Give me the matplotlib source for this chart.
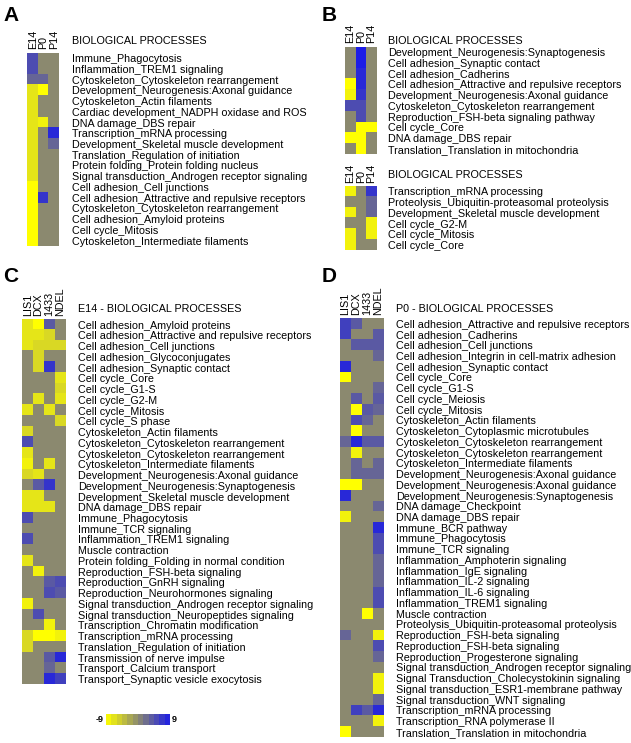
import numpy as np
import matplotlib
matplotlib.use("Agg")
import matplotlib.pyplot as plt
from matplotlib.colors import LinearSegmentedColormap

plt.rcParams['font.family'] = ['Liberation Sans', 'DejaVu Sans']

W, H = 631, 743

# ---- data -------------------------------------------------------------
stage_cols = ['E14', 'P0', 'P14']
gene_cols = ['LIS1', 'DCX', '1433', 'NDEL']

a_rows = ['Immune_Phagocytosis',
          'Inflammation_TREM1 signaling',
          'Cytoskeleton_Cytoskeleton rearrangement',
          'Development_Neurogenesis:Axonal guidance',
          'Cytoskeleton_Actin filaments',
          'Cardiac development_NADPH oxidase and ROS',
          'DNA damage_DBS repair',
          'Transcription_mRNA processing',
          'Development_Skeletal muscle development',
          'Translation_Regulation of initiation',
          'Protein folding_Protein folding nucleus',
          'Signal transduction_Androgen receptor signaling',
          'Cell adhesion_Cell junctions',
          'Cell adhesion_Attractive and repulsive receptors',
          'Cytoskeleton_Cytoskeleton rearrangement',
          'Cell adhesion_Amyloid proteins',
          'Cell cycle_Mitosis',
          'Cytoskeleton_Intermediate filaments']
a_vals = [[5, 0, 0], [5, 0, 0], [3, 3, 0], [-7, -9, 0], [-7, 0, 0], [-7, 0, 0],
          [-7, -8, 0], [-7, 0, 8], [-7, 0, 3], [-7, 0, 0], [-7, 0, 0], [-7, 0, 0],
          [-9, 0, 0], [-9, 7, 0], [-9, 0, 0], [-9, 0, 0], [-9, 0, 0], [-9, 0, 0]]

b1_rows = ['Development_Neurogenesis:Synaptogenesis',
           'Cell adhesion_Synaptic contact',
           'Cell adhesion_Cadherins',
           'Cell adhesion_Attractive and repulsive receptors',
           'Development_Neurogenesis:Axonal guidance',
           'Cytoskeleton_Cytoskeleton rearrangement',
           'Reproduction_FSH-beta signaling pathway',
           'Cell cycle_Core',
           'DNA damage_DBS repair',
           'Translation_Translation in mitochondria']
b1_vals = [[0, 9, 0], [0, 9, 0], [0, 8, 0], [-9, 8, 0], [-8, 7, 0], [5, 5, 0],
           [0, 5, 0], [0, -9, -9], [-9, -9, 0], [0, -9, 0]]

b2_rows = ['Transcription_mRNA processing',
           'Proteolysis_Ubiquitin-proteasomal proteolysis',
           'Development_Skeletal muscle development',
           'Cell cycle_G2-M',
           'Cell cycle_Mitosis',
           'Cell cycle_Core']
b2_vals = [[-8, 0, 7], [0, 0, 3], [-8, 0, 3], [0, 0, -8], [-8, 0, -8], [-8, 0, 0]]

c_rows = ['Cell adhesion_Amyloid proteins',
          'Cell adhesion_Attractive and repulsive receptors',
          'Cell adhesion_Cell junctions',
          'Cell adhesion_Glycoconjugates',
          'Cell adhesion_Synaptic contact',
          'Cell cycle_Core',
          'Cell cycle_G1-S',
          'Cell cycle_G2-M',
          'Cell cycle_Mitosis',
          'Cell cycle_S phase',
          'Cytoskeleton_Actin filaments',
          'Cytoskeleton_Cytoskeleton rearrangement',
          'Cytoskeleton_Cytoskeleton rearrangement',
          'Cytoskeleton_Intermediate filaments',
          'Development_Neurogenesis:Axonal guidance',
          'Development_Neurogenesis:Synaptogenesis',
          'Development_Skeletal muscle development',
          'DNA damage_DBS repair',
          'Immune_Phagocytosis',
          'Immune_TCR signaling',
          'Inflammation_TREM1 signaling',
          'Muscle contraction',
          'Protein folding_Folding in normal condition',
          'Reproduction_FSH-beta signaling',
          'Reproduction_GnRH signaling',
          'Reproduction_Neurohormones signaling',
          'Signal transduction_Androgen receptor signaling',
          'Signal transduction_Neuropeptides signaling',
          'Transcription_Chromatin modification',
          'Transcription_mRNA processing',
          'Translation_Regulation of initiation',
          'Transmission of nerve impulse',
          'Transport_Calcium transport',
          'Transport_Synaptic vesicle exocytosis']
c_vals = [[-7, -9, 4, 0], [-7, -7, -6, 0], [-7, -6, -6, -6], [0, -6, 0, 0],
          [0, -6, 7, 0], [0, 0, 0, -7], [0, 0, 0, -6], [0, -7, 0, -7],
          [-7, 0, -7, 0], [0, 0, 0, -6], [-6, 0, 0, 0], [5, 0, 0, 0],
          [-7, 0, 0, 0], [-8, 0, -7, 0], [-6, -7, 0, 0], [0, 4, 7, 0],
          [-7, -7, 0, 0], [-7, -7, -7, 0], [5, 0, 0, 0], [0, 0, 0, 0],
          [5, 0, 0, 0], [0, 0, 0, 0], [-7, 0, 0, 0], [0, -8, 0, 0],
          [0, 0, 4, 5], [0, 0, 5, 4], [-8, 0, 0, 0], [0, 5, 0, 0],
          [0, 0, -8, 0], [-6, -9, -9, -8], [-6, 0, 0, 0], [0, 0, 4, 8],
          [0, 0, 3, 0], [0, 0, 8, 6]]

d_rows = ['Cell adhesion_Attractive and repulsive receptors',
          'Cell adhesion_Cadherins',
          'Cell adhesion_Cell junctions',
          'Cell adhesion_Integrin in cell-matrix adhesion',
          'Cell adhesion_Synaptic contact',
          'Cell cycle_Core',
          'Cell cycle_G1-S',
          'Cell cycle_Meiosis',
          'Cell cycle_Mitosis',
          'Cytoskeleton_Actin filaments',
          'Cytoskeleton_Cytoplasmic microtubules',
          'Cytoskeleton_Cytoskeleton rearrangement',
          'Cytoskeleton_Cytoskeleton rearrangement',
          'Cytoskeleton_Intermediate filaments',
          'Development_Neurogenesis:Axonal guidance',
          'Development_Neurogenesis:Axonal guidance',
          'Development_Neurogenesis:Synaptogenesis',
          'DNA damage_Checkpoint',
          'DNA damage_DBS repair',
          'Immune_BCR pathway',
          'Immune_Phagocytosis',
          'Immune_TCR signaling',
          'Inflammation_Amphoterin signaling',
          'Inflammation_IgE signaling',
          'Inflammation_IL-2 signaling',
          'Inflammation_IL-6 signaling',
          'Inflammation_TREM1 signaling',
          'Muscle contraction',
          'Proteolysis_Ubiquitin-proteasomal proteolysis',
          'Reproduction_FSH-beta signaling',
          'Reproduction_FSH-beta signaling',
          'Reproduction_Progesterone signaling',
          'Signal transduction_Androgen receptor signaling',
          'Signal Transduction_Cholecystokinin signaling',
          'Signal transduction_ESR1-membrane pathway',
          'Signal transduction_WNT signaling',
          'Transcription_mRNA processing',
          'Transcription_RNA polymerase II',
          'Translation_Translation in mitochondria']
d_vals = [[6, 4, 0, 0], [6, 0, 0, 4], [0, 4, 4, 4], [0, 0, 0, 3],
          [8, 0, 0, 0], [-9, 0, 0, 0], [0, 0, 0, 3], [0, 4, 0, 4],
          [0, -9, 4, 3], [0, 5, 3, 0], [0, -9, 0, 0], [3, 8, 4, 4],
          [0, -8, 0, 0], [0, 3, 0, 3], [0, 3, 3, 3], [-9, -9, 0, 0],
          [8, 0, 0, 0], [0, 0, 0, 3], [-8, 0, 0, 0], [0, 0, 0, 8],
          [0, 0, 0, 5], [0, 0, 0, 5], [0, 0, 0, 3], [0, 0, 0, 3],
          [0, 0, 0, 3], [0, 0, 0, 5], [0, 0, 0, 5], [0, 0, -9, 0],
          [0, 0, 0, 0], [3, 0, 0, -8], [0, 0, 0, 5], [0, 0, 0, 3],
          [0, 0, 0, 0], [0, 0, 0, -8], [0, 0, 0, -8], [0, 0, 0, 3],
          [0, 6, 4, 8], [0, 0, 0, -8], [-9, 0, 0, 0]]

# ---- colours ----------------------------------------------------------
cmap = LinearSegmentedColormap.from_list(
    'ygb', ['#ffff00', '#8c8a6f', '#1c1ce6'], N=256)
VMIN, VMAX = -9, 9
FS = 7.75


def px(x0, y0, x1, y1):
    # pixel box (from top-left) -> figure fraction
    return [x0 / W, 1 - y1 / H, (x1 - x0) / W, (y1 - y0) / H]


def heat(fig, box, vals, rows, cols, pad):
    ax = fig.add_axes(px(*box))
    im = ax.imshow(np.array(vals), cmap=cmap, vmin=VMIN, vmax=VMAX,
                   aspect='auto', interpolation='nearest')
    ax.yaxis.tick_right()
    ax.set_yticks(range(len(rows)))
    ax.set_yticklabels(rows, fontsize=FS)
    ax.xaxis.tick_top()
    ax.set_xticks(range(len(cols)))
    ax.set_xticklabels(cols, rotation=90, fontsize=FS)
    ax.tick_params(axis='y', length=0, pad=pad)
    ax.tick_params(axis='x', length=0, pad=2.5)
    for s in ax.spines.values():
        s.set_visible(False)
    return im


fig = plt.figure(figsize=(W / 100, H / 100), dpi=100)

# panel letters
for lab, x, y in [('A', 3, 21), ('B', 322, 21), ('C', 3, 282), ('D', 322, 282)]:
    fig.text(x / W, 1 - y / H, lab, fontsize=15, fontweight='bold', va='baseline')

# A
heat(fig, (27.3, 52.7, 59.3, 52.7 + 18 * 10.74), a_vals, a_rows, stage_cols, 9.0)
fig.text(72 / W, 1 - 44.5 / H, 'BIOLOGICAL PROCESSES', fontsize=FS, va='baseline')

# B
heat(fig, (345, 46.7, 376.7, 46.7 + 10 * 10.74), b1_vals, b1_rows, stage_cols, 8.2)
fig.text(388 / W, 1 - 44 / H, 'BIOLOGICAL PROCESSES', fontsize=FS, va='baseline')
heat(fig, (345, 186, 376.7, 186 + 6 * 10.74), b2_vals, b2_rows, stage_cols, 8.2)
fig.text(388 / W, 1 - 178.5 / H, 'BIOLOGICAL PROCESSES', fontsize=FS, va='baseline')

# C
im = heat(fig, (22.3, 319.3, 65.7, 319.3 + 34 * 10.74), c_vals, c_rows, gene_cols, 9.0)
fig.text(78 / W, 1 - 312 / H, 'E14 - BIOLOGICAL PROCESSES', fontsize=FS, va='baseline')

# D
heat(fig, (340, 318.3, 383.3, 318.3 + 39 * 10.74), d_vals, d_rows, gene_cols, 9.0)
fig.text(396 / W, 1 - 312 / H, 'P0 - BIOLOGICAL PROCESSES', fontsize=FS, va='baseline')

# colour key
cax = fig.add_axes(px(106, 714, 170, 725))
cb = fig.colorbar(im, cax=cax, orientation='horizontal',
                  boundaries=np.linspace(VMIN, VMAX, 13))
cb.set_ticks([])
cb.outline.set_visible(False)
fig.text(104 / W, 1 - 719.5 / H, '-9', fontsize=6.5, fontweight='bold',
         ha='right', va='center')
fig.text(172 / W, 1 - 719.5 / H, '9', fontsize=6.5, fontweight='bold',
         ha='left', va='center')

fig.savefig('out.png', dpi=100)
